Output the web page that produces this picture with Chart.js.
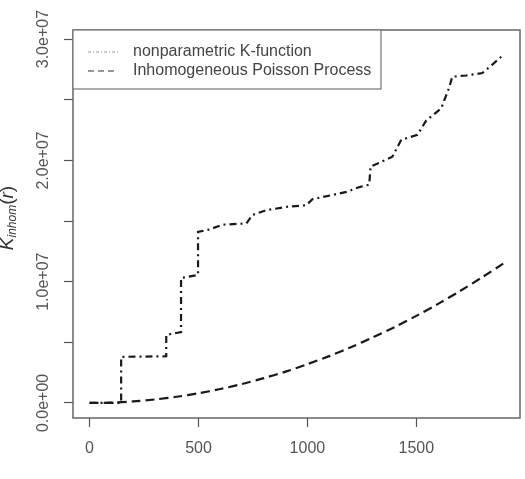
<!DOCTYPE html>
<html>
<head>
<meta charset="utf-8">
<script src="https://cdn.jsdelivr.net/npm/chart.js@4/dist/chart.umd.min.js"></script>
<style>
  body { margin: 0; background: #fff; }
  #wrap { width: 525px; height: 479px; }
</style>
</head>
<body>
<div id="wrap"><canvas id="myChart" width="525" height="479"></canvas></div>
<script>
// nonparametric K-function (step function)
let kRadius = [0, 145, 145, 352, 352, 420, 420, 498, 498, 550, 610, 720, 748, 812, 917, 995, 1023, 1115, 1179, 1239, 1284, 1290, 1330, 1390, 1431, 1505, 1546, 1615, 1625, 1651, 1665, 1729, 1803, 1849, 1900];
let kValues = [0, 0, 3.8e6, 3.85e6, 5.6e6, 5.85e6, 1.03e7, 1.055e7, 1.41e7, 1.43e7, 1.47e7, 1.48e7, 1.55e7, 1.59e7, 1.62e7, 1.63e7, 1.68e7, 1.715e7, 1.74e7, 1.78e7, 1.8e7, 1.95e7, 1.98e7, 2.03e7, 2.17e7, 2.21e7, 2.33e7, 2.43e7, 2.48e7, 2.6e7, 2.69e7, 2.7e7, 2.72e7, 2.79e7, 2.87e7];

// inhomogeneous Poisson process
let ppRadius = [0, 100, 200, 300, 400, 500, 600, 700, 800, 900, 1000, 1100, 1200, 1300, 1400, 1500, 1600, 1700, 1800, 1900];
let ppValues = [0, 0.03e6, 0.13e6, 0.29e6, 0.51e6, 0.8e6, 1.15e6, 1.56e6, 2.05e6, 2.58e6, 3.2e6, 3.86e6, 4.6e6, 5.4e6, 6.25e6, 7.18e6, 8.17e6, 9.22e6, 1.034e7, 1.15e7];

let seriesNames = ["nonparametric K-function", "Inhomogeneous Poisson Process"];
let xTicks = [0, 500, 1000, 1500];
let yTicks = [0, 5e6, 1e7, 1.5e7, 2e7, 2.5e7, 3e7];
let yLabels = { 0: "0.0e+00", 10000000: "1.0e+07", 20000000: "2.0e+07", 30000000: "3.0e+07" };

const axisGray = "#555";
const font = "'Liberation Sans', Arial, sans-serif";

function toPoints(xs, ys) {
  return xs.map((x, i) => ({ x: x, y: ys[i] }));
}

// box, rotated y labels, y title and legend, drawn R-style
const rStyle = {
  id: "rStyle",
  afterDraw(chart) {
    let ctx = chart.ctx;
    let ca = chart.chartArea;
    let y = chart.scales.y;

    ctx.save();
    ctx.strokeStyle = "#666";
    ctx.lineWidth = 1.5;
    ctx.strokeRect(ca.left, ca.top, ca.right - ca.left, ca.bottom - ca.top);

    // y tick labels, reading bottom to top
    ctx.fillStyle = axisGray;
    ctx.font = "16px " + font;
    ctx.textAlign = "center";
    ctx.textBaseline = "middle";
    yTicks.forEach((v) => {
      let label = yLabels[v];
      if (!label) return;
      let py = y.getPixelForValue(v);
      ctx.save();
      ctx.translate(44, py);
      ctx.rotate(-Math.PI / 2);
      ctx.fillText(label, 0, 0);
      ctx.restore();
    });

    // y title K_inhom(r)
    ctx.save();
    ctx.translate(8, 218);
    ctx.rotate(-Math.PI / 2);
    ctx.fillStyle = "#333";
    ctx.textBaseline = "middle";
    ctx.textAlign = "left";
    let parts = [
      { t: "K", f: "italic 19px " + font, dy: 0 },
      { t: "inhom", f: "italic 12px " + font, dy: 5 },
      { t: "(", f: "19px " + font, dy: 0 },
      { t: "r", f: "italic 19px " + font, dy: 0 },
      { t: ")", f: "19px " + font, dy: 0 },
    ];
    let total = 0;
    parts.forEach((p) => { ctx.font = p.f; total += ctx.measureText(p.t).width; });
    let cx = -total / 2;
    parts.forEach((p) => {
      ctx.font = p.f;
      ctx.fillText(p.t, cx, p.dy);
      cx += ctx.measureText(p.t).width;
    });
    ctx.restore();

    // legend
    let lx = ca.left, ly = ca.top, lw = 308, lh = 59;
    ctx.fillStyle = "#fff";
    ctx.fillRect(lx, ly, lw, lh);
    ctx.strokeStyle = "#777";
    ctx.lineWidth = 1.2;
    ctx.strokeRect(lx, ly, lw, lh);
    let legendStyles = [
      { color: "#999", dash: [3, 2, 1, 2], width: 1 },
      { color: "#333", dash: [6, 4], width: 1.2 },
    ];
    ctx.font = "16px " + font;
    ctx.textAlign = "left";
    ctx.textBaseline = "middle";
    seriesNames.forEach((name, i) => {
      let rowY = ly + 22 + i * 19;
      ctx.strokeStyle = legendStyles[i].color;
      ctx.lineWidth = legendStyles[i].width;
      ctx.setLineDash(legendStyles[i].dash);
      ctx.beginPath();
      ctx.moveTo(lx + 15, rowY);
      ctx.lineTo(lx + 45, rowY);
      ctx.stroke();
      ctx.setLineDash([]);
      ctx.fillStyle = "#444";
      ctx.fillText(name, lx + 60, rowY);
    });
    ctx.restore();
  },
};

let ctx = document.getElementById("myChart").getContext("2d");

let myChart = new Chart(ctx, {
  type: "line",
  data: {
    datasets: [
      {
        label: seriesNames[0],
        data: toPoints(kRadius, kValues),
        borderColor: "#1a1a1a",
        borderWidth: 2.2,
        borderDash: [7, 4, 2, 4],
        pointRadius: 0,
        tension: 0,
        fill: false,
      },
      {
        label: seriesNames[1],
        data: toPoints(ppRadius, ppValues),
        borderColor: "#1a1a1a",
        borderWidth: 2.2,
        borderDash: [9, 5],
        pointRadius: 0,
        tension: 0.3,
        fill: false,
      },
    ],
  },
  options: {
    responsive: false,
    animation: false,
    layout: { padding: { left: 0, top: 30, right: 5, bottom: 0 } },
    plugins: {
      legend: { display: false },
      tooltip: { enabled: false },
    },
    scales: {
      x: {
        type: "linear",
        min: -76,
        max: 1976,
        afterBuildTicks: (s) => { s.ticks = xTicks.map((v) => ({ value: v })); },
        afterFit: (s) => { s.height = 61; },
        border: { display: false },
        grid: { drawOnChartArea: false, tickLength: 9, color: axisGray, tickWidth: 1.2 },
        ticks: {
          color: axisGray,
          font: { family: font, size: 16 },
          padding: 12,
          maxRotation: 0,
          callback: (v) => String(v),
        },
      },
      y: {
        type: "linear",
        min: -1.24e6,
        max: 3.075e7,
        afterBuildTicks: (s) => { s.ticks = yTicks.map((v) => ({ value: v })); },
        afterFit: (s) => { s.width = 73; },
        border: { display: false },
        grid: { drawOnChartArea: false, tickLength: 9, color: axisGray, tickWidth: 1.2 },
        ticks: { display: false },
      },
    },
  },
  plugins: [rStyle],
});
</script>
</body>
</html>
